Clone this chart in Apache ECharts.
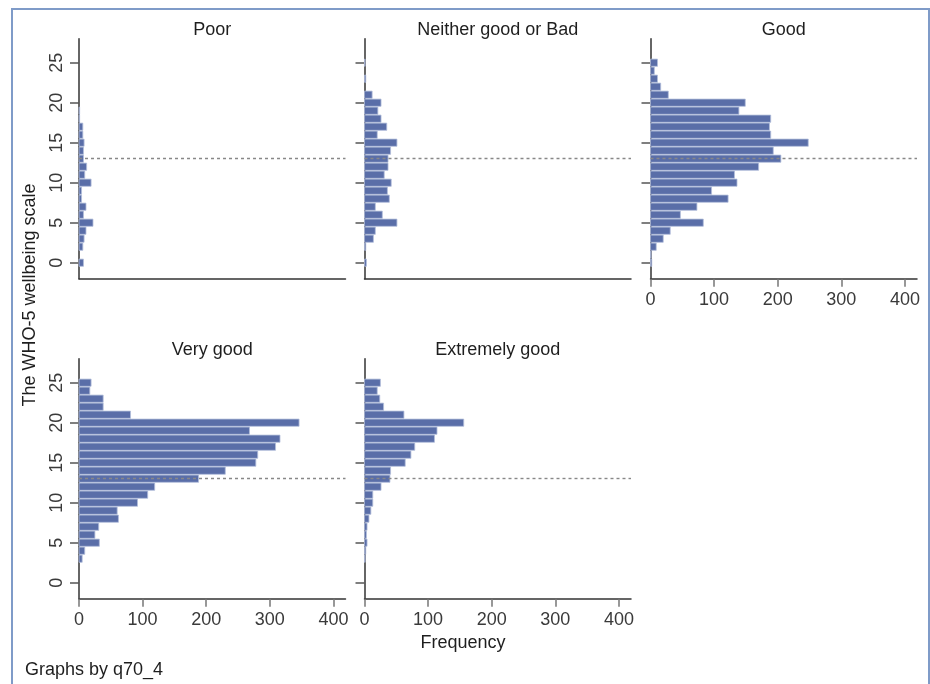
<!DOCTYPE html>
<html>
<head>
<meta charset="utf-8">
<title>WHO-5 wellbeing scale by q70_4</title>
<script src="https://cdn.jsdelivr.net/npm/echarts@6/dist/echarts.min.js"></script>
<style>
  html, body { margin: 0; padding: 0; background: #fff; }
  #chart { width: 930px; height: 684px; }
</style>
</head>
<body>
<div id="chart"></div>
<script>
// WHO-5 score (0..25) and how many answered it, per q70_4 group
const groups = ['Poor', 'Neither good or Bad', 'Good', 'Very good', 'Extremely good']
const scores = [0, 1, 2, 3, 4, 5, 6, 7, 8, 9, 10, 11, 12, 13, 14, 15, 16, 17, 18, 19, 20, 21, 22, 23, 24, 25]

const poor = [7, 0, 6, 8, 11, 22, 7, 11, 4, 4, 19, 9, 12, 7, 7, 8, 6, 6, 1, 1, 0, 0, 0, 0, 0, 0]
const neither = [3, 0, 2, 14, 17, 51, 28, 17, 39, 36, 42, 31, 37, 37, 41, 51, 20, 35, 26, 21, 26, 12, 0, 2, 0, 1]
const good = [2, 1, 9, 20, 31, 83, 47, 73, 122, 96, 136, 132, 170, 205, 193, 248, 189, 187, 189, 139, 149, 28, 16, 11, 6, 11]
const veryGood = [0, 0, 0, 5, 9, 32, 25, 31, 62, 60, 92, 108, 119, 188, 230, 278, 281, 309, 316, 268, 346, 81, 38, 38, 17, 19]
const extremelyGood = [0, 0, 0, 1, 2, 4, 3, 4, 7, 10, 13, 13, 26, 40, 41, 64, 73, 79, 110, 114, 156, 62, 30, 24, 20, 25]

const xTicks = [0, 100, 200, 300, 400]
const yTicks = [0, 5, 10, 15, 20, 25]
const refLine = 13

const counts = [poor, neither, good, veryGood, extremelyGood]

// layout of the 3 + 2 panels
const colLeft = [79, 364.5, 650.5]
const rowTop = [38.7, 358.7]
const panelW = 266.5
const panelH = 240
const font = '"Liberation Sans", Arial, sans-serif'
const barFill = '#5a6ea8'
const barEdge = '#b3bedb'

const panels = groups.map((name, i) => {
  const row = i < 3 ? 0 : 1
  const col = i < 3 ? i : i - 3
  return {
    name,
    left: colLeft[col],
    top: rowTop[row],
    xLabels: i >= 2,
    yLabels: col === 0
  }
})

const chart = echarts.init(document.getElementById('chart'), null, { renderer: 'canvas' })

const option = {
  backgroundColor: '#fff',
  animation: false,
  grid: panels.map(p => ({
    left: p.left, top: p.top, width: panelW, height: panelH
  })),
  xAxis: panels.map((p, i) => ({
    type: 'value',
    gridIndex: i,
    min: 0,
    max: 419,
    axisLine: { show: true, onZero: false, lineStyle: { color: '#333', width: 1.5 } },
    axisTick: {
      show: p.xLabels, length: 8, customValues: xTicks,
      lineStyle: { color: '#777', width: 1.5 }
    },
    axisLabel: {
      show: p.xLabels, customValues: xTicks, margin: 12,
      color: '#3a3a3a', fontSize: 18, fontFamily: font
    },
    splitLine: { show: false }
  })),
  yAxis: panels.map((p, i) => ({
    type: 'value',
    gridIndex: i,
    min: -2,
    max: 28,
    axisLine: { show: true, onZero: false, lineStyle: { color: '#333', width: 1.5 } },
    axisTick: {
      show: true, length: 9, customValues: yTicks,
      lineStyle: { color: '#555', width: 1.5 }
    },
    axisLabel: {
      show: p.yLabels, customValues: yTicks, rotate: 90, margin: 13,
      color: '#3a3a3a', fontSize: 18, fontFamily: font
    },
    splitLine: { show: false }
  })),
  series: panels.map((p, i) => ({
    type: 'custom',
    name: p.name,
    xAxisIndex: i,
    yAxisIndex: i,
    encode: { x: 0, y: 1 },
    data: counts[i].map((c, k) => [c, scores[k]]),
    renderItem: (params, api) => {
      const c = api.value(0)
      const s = api.value(1)
      if (!c) return
      const a = api.coord([0, s + 0.45])
      const b = api.coord([c, s - 0.45])
      return {
        type: 'rect',
        shape: { x: a[0], y: a[1], width: b[0] - a[0], height: b[1] - a[1] },
        style: { fill: barFill, stroke: barEdge, lineWidth: 0.8 }
      }
    },
    markLine: {
      silent: true,
      symbol: 'none',
      label: { show: false },
      lineStyle: { type: [3, 3], color: '#888', width: 1.4 },
      data: [{ yAxis: refLine }]
    }
  })),
  graphic: [
    {
      type: 'rect',
      shape: { x: 12, y: 9, width: 917, height: 720 },
      style: { fill: 'none', stroke: '#7f9bc8', lineWidth: 2 },
      silent: true
    },
    ...panels.map(p => ({
      type: 'text',
      x: p.left + panelW / 2,
      y: p.top - 9,
      style: {
        text: p.name, fill: '#1e1e1e', font: '18px ' + font,
        textAlign: 'center', textVerticalAlign: 'middle'
      }
    })),
    {
      type: 'text',
      x: 30,
      y: 295,
      rotation: Math.PI / 2,
      style: {
        text: 'The WHO-5 wellbeing scale', fill: '#1e1e1e', font: '18px ' + font,
        textAlign: 'center', textVerticalAlign: 'middle'
      }
    },
    {
      type: 'text',
      x: 463,
      y: 643,
      style: {
        text: 'Frequency', fill: '#1e1e1e', font: '18px ' + font,
        textAlign: 'center', textVerticalAlign: 'middle'
      }
    },
    {
      type: 'text',
      x: 25,
      y: 670,
      style: {
        text: 'Graphs by q70_4', fill: '#1e1e1e', font: '18px ' + font,
        textAlign: 'left', textVerticalAlign: 'middle'
      }
    }
  ]
}

chart.setOption(option)
window.addEventListener('resize', () => chart.resize())
</script>
</body>
</html>
